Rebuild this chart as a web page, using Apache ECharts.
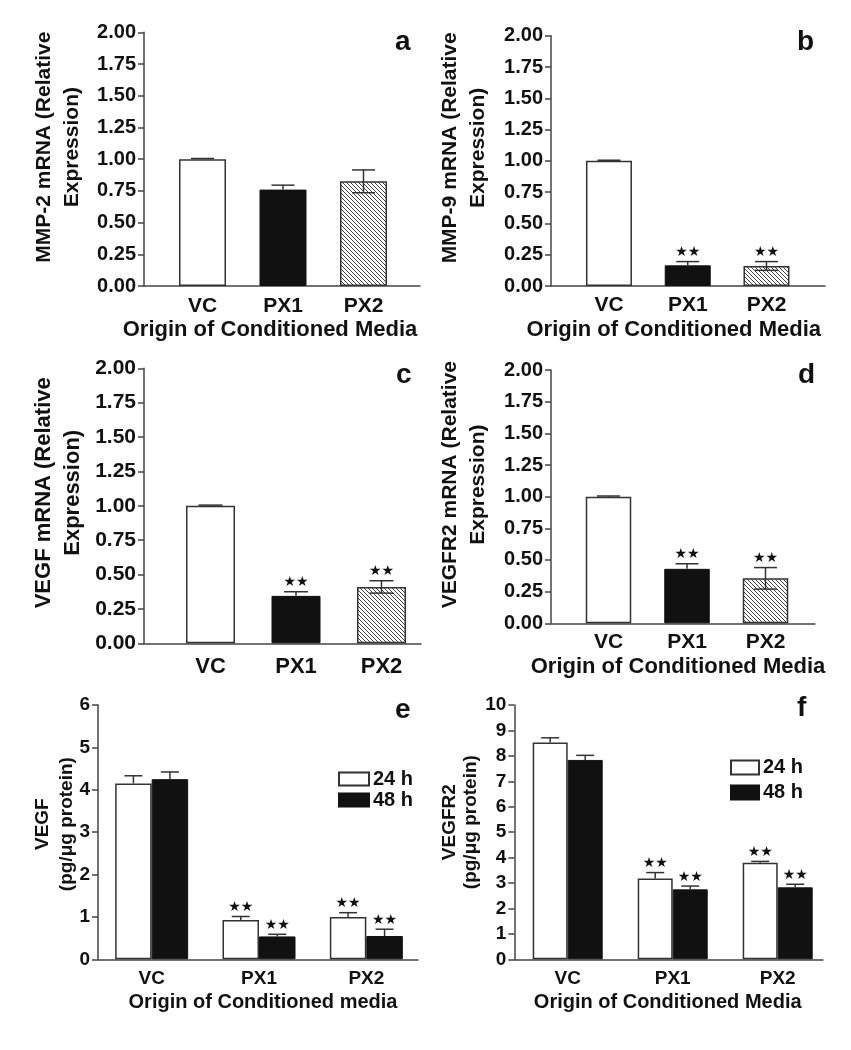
<!DOCTYPE html>
<html>
<head>
<meta charset="utf-8">
<script src="https://cdn.jsdelivr.net/npm/echarts@6/dist/echarts.min.js"></script>
<style>
  html, body { margin: 0; padding: 0; background: #fff; }
  #chart { width: 851px; height: 1050px; }
</style>
</head>
<body>
<div id="chart"></div>
<script>
// ---------- DATA ----------
const categories = ['VC', 'PX1', 'PX2'];
const mrnaTicks = ['0.00', '0.25', '0.50', '0.75', '1.00', '1.25', '1.50', '1.75', '2.00'];
const vegfTicks = ['0', '1', '2', '3', '4', '5', '6'];
const vegfr2Ticks = ['0', '1', '2', '3', '4', '5', '6', '7', '8', '9', '10'];

const mmp2Mean = [1.00, 0.76, 0.825];
const mmp2Err = [0.005, 0.035, 0.09];
const mmp2Sig = [0, 0, 0];

const mmp9Mean = [1.00, 0.165, 0.16];
const mmp9Err = [0.005, 0.03, 0.035];
const mmp9Sig = [0, 1, 1];

const vegfMrnaMean = [1.00, 0.345, 0.41];
const vegfMrnaErr = [0.005, 0.03, 0.045];
const vegfMrnaSig = [0, 1, 1];

const vegfr2MrnaMean = [1.00, 0.43, 0.355];
const vegfr2MrnaErr = [0.005, 0.04, 0.085];
const vegfr2MrnaSig = [0, 1, 1];

const seriesNames = ['24 h', '48 h'];
const vegf24Mean = [4.15, 0.93, 1.00];
const vegf24Err = [0.18, 0.08, 0.10];
const vegf48Mean = [4.25, 0.54, 0.55];
const vegf48Err = [0.17, 0.05, 0.16];
const vegfProtSig = [0, 1, 1];

const vegfr224Mean = [8.53, 3.18, 3.80];
const vegfr224Err = [0.18, 0.23, 0.05];
const vegfr248Mean = [7.84, 2.75, 2.83];
const vegfr248Err = [0.18, 0.13, 0.12];
const vegfr2ProtSig = [0, 1, 1];

// ---------- STYLE ----------
const FONT = '"Liberation Sans", Arial, Helvetica, sans-serif';
const INK = '#111';
const AXIS = '#444';

function makeHatch() {
  const s = 4;
  const c = document.createElement('canvas');
  c.width = s; c.height = s;
  const g = c.getContext('2d');
  g.fillStyle = '#fff';
  g.fillRect(0, 0, s, s);
  g.strokeStyle = '#444';
  g.lineWidth = 1;
  for (const k of [-s, 0, s]) {
    g.beginPath();
    g.moveTo(k, 0);
    g.lineTo(k + s, s);
    g.stroke();
  }
  return c;
}
const hatch = { image: makeHatch(), repeat: 'repeat' };
const whiteStyle = { color: '#fff', borderColor: '#333', borderWidth: 1.5 };
const blackStyle = { color: '#111', borderColor: '#111', borderWidth: 1 };
const hatchStyle = { color: hatch, borderColor: '#333', borderWidth: 1.5 };

// ---------- PANELS ----------
const panels = [
  { letter: 'a', frame: [144, 420, 32.3, 286], data: [162.25, 241.5], barW: 47,
    max: 2, interval: 0.25, ticks: mrnaTicks, tickFont: 20,
    name: 'MMP-2 mRNA (Relative\nExpression)', nameFont: 21, nameLH: 28, nameGap: 58, nameUp: 12,
    xFont: 21, xMargin: 10, title: 'Origin of Conditioned Media', titleGap: 33, titleShift: -13,
    mean: mmp2Mean, err: mmp2Err, sig: mmp2Sig, letterPos: [395, 28], capW: 23 },
  { letter: 'b', frame: [551, 825, 35.7, 286], data: [569.6, 236.25], barW: 46,
    max: 2, interval: 0.25, ticks: mrnaTicks, tickFont: 20,
    name: 'MMP-9 mRNA (Relative\nExpression)', nameFont: 21, nameLH: 28, nameGap: 59, nameUp: 13,
    xFont: 21, xMargin: 9, title: 'Origin of Conditioned Media', titleGap: 33, titleShift: -14,
    mean: mmp9Mean, err: mmp9Err, sig: mmp9Sig, letterPos: [797, 28], capW: 23 },
  { letter: 'c', frame: [144, 421, 368.3, 643.3], data: [167.75, 256.5], barW: 49,
    max: 2, interval: 0.25, ticks: mrnaTicks, tickFont: 21,
    name: 'VEGF mRNA (Relative\nExpression)', nameFont: 22, nameLH: 29, nameGap: 57, nameUp: 13,
    xFont: 22, xMargin: 13, title: null,
    mean: vegfMrnaMean, err: vegfMrnaErr, sig: vegfMrnaSig, letterPos: [396, 361], capW: 24 },
  { letter: 'd', frame: [551, 815, 370, 623.3], data: [569.25, 235.5], barW: 45.5,
    max: 2, interval: 0.25, ticks: mrnaTicks, tickFont: 20,
    name: 'VEGFR2 mRNA (Relative\nExpression)', nameFont: 21, nameLH: 28, nameGap: 59, nameUp: 12,
    xFont: 21, xMargin: 8, title: 'Origin of Conditioned Media', titleGap: 33, titleShift: -9,
    mean: vegfr2MrnaMean, err: vegfr2MrnaErr, sig: vegfr2MrnaSig, letterPos: [798, 361], capW: 23 }
];

const groupPanels = [
  { letter: 'e', frame: [98, 418, 705, 959.3], data: [98, 322], barW: 36.5,
    max: 6, interval: 1, ticks: vegfTicks, tickFont: 19,
    name: 'VEGF\n(pg/μg protein)', nameFont: 19, nameLH: 24, nameGap: 19, nameUp: 8,
    xFont: 19, xMargin: 10, title: 'Origin of Conditioned media', titleGap: 33, titleShift: 4,
    means: [vegf24Mean, vegf48Mean], errs: [vegf24Err, vegf48Err], sig: vegfProtSig,
    letterPos: [395, 696], capW: 18,
    legend: { left: 338, top: 769, w: 30, h: 13, gap: 1 } },
  { letter: 'f', frame: [514.3, 823, 705, 959.3], data: [515.2, 315], barW: 35,
    max: 10, interval: 1, ticks: vegfr2Ticks, tickFont: 19,
    name: 'VEGFR2\n(pg/μg protein)', nameFont: 19, nameLH: 21, nameGap: 33, nameUp: 10,
    xFont: 19, xMargin: 10, title: 'Origin of Conditioned Media', titleGap: 33, titleShift: -5,
    means: [vegfr224Mean, vegfr248Mean], errs: [vegfr224Err, vegfr248Err], sig: vegfr2ProtSig,
    letterPos: [797, 694], capW: 18,
    legend: { left: 730, top: 757.5, w: 28, h: 14, gap: 5 } }
];

const grids = [], xAxes = [], yAxes = [], series = [], titles = [], legends = [];

function errRender(offset, capW, both) {
  return function (params, api) {
    const x = api.value(0), m = api.value(1), e = api.value(2), sig = api.value(3);
    const base = api.coord([x, m]);
    const top = api.coord([x, m + e]);
    const bot = api.coord([x, m - e]);
    const cx = base[0] + offset;
    const ls = { stroke: '#333', lineWidth: 1.5 };
    const children = [
      { type: 'line', shape: { x1: cx, y1: both ? bot[1] : base[1], x2: cx, y2: top[1] }, style: ls },
      { type: 'line', shape: { x1: cx - capW / 2, y1: top[1], x2: cx + capW / 2, y2: top[1] }, style: ls }
    ];
    if (both) {
      children.push({ type: 'line', shape: { x1: cx - capW / 2, y1: bot[1], x2: cx + capW / 2, y2: bot[1] }, style: ls });
    }
    if (sig) {
      children.push({ type: 'text', x: cx, y: top[1] - 9,
        style: { text: '★★', fill: INK, font: '14px "DejaVu Sans", sans-serif', align: 'center', verticalAlign: 'middle' } });
    }
    return { type: 'group', children: children };
  };
}

function addAxes(p, idx) {
  const [l, r, t, b] = p.frame;
  const h = b - t;
  grids.push({ left: l, top: t, width: r - l, height: h, outerBoundsMode: 'none', containLabel: false });
  grids.push({ left: p.data[0], top: t, width: p.data[1], height: h, outerBoundsMode: 'none', containLabel: false });
  const fg = 2 * idx, dg = 2 * idx + 1;
  xAxes.push({ gridIndex: fg, type: 'category', data: categories, boundaryGap: true,
    axisLine: { show: true, lineStyle: { color: AXIS, width: 1.5 } },
    axisTick: { show: false }, axisLabel: { show: false }, splitLine: { show: false } });
  yAxes.push({ gridIndex: fg, type: 'value', min: 0, max: p.max, interval: p.interval,
    axisLine: { show: true, onZero: false, lineStyle: { color: AXIS, width: 1.5 } },
    axisTick: { show: true, inside: false, length: 6, lineStyle: { color: AXIS, width: 1.5 } },
    axisLabel: { show: true, margin: 8, color: INK, fontFamily: FONT, fontWeight: 'bold', fontSize: p.tickFont,
      formatter: (v, i) => p.ticks[i] },
    splitLine: { show: false },
    name: p.name, nameLocation: 'middle', nameRotate: 90, nameGap: p.nameGap, nameMoveOverlap: false,
    nameTextStyle: { color: INK, fontFamily: FONT, fontWeight: 'bold', fontSize: p.nameFont,
      lineHeight: p.nameLH, align: 'center', padding: [0, 0, 0, 2 * p.nameUp] } });
  xAxes.push({ gridIndex: dg, type: 'category', data: categories, boundaryGap: true,
    axisLine: { show: false }, axisTick: { show: false },
    axisLabel: { show: true, margin: p.xMargin, color: INK, fontFamily: FONT, fontWeight: 'bold', fontSize: p.xFont },
    splitLine: { show: false },
    name: p.title || '', nameLocation: 'middle', nameGap: p.titleGap || 0, nameMoveOverlap: false,
    nameTextStyle: { color: INK, fontFamily: FONT, fontWeight: 'bold', fontSize: p.xFont + 1,
      padding: p.titleShift < 0 ? [0, -2 * p.titleShift, 0, 0] : [0, 0, 0, 2 * (p.titleShift || 0)] } });
  yAxes.push({ gridIndex: dg, type: 'value', min: 0, max: p.max, interval: p.interval, show: false });
  titles.push({ text: p.letter, left: p.letterPos[0], top: p.letterPos[1], padding: 0,
    textStyle: { color: INK, fontFamily: FONT, fontWeight: 'bold', fontSize: 28 } });
  return dg;
}

panels.forEach((p, i) => {
  const dg = addAxes(p, i);
  const styles = [whiteStyle, blackStyle, hatchStyle];
  series.push({ type: 'bar', xAxisIndex: dg, yAxisIndex: dg, barWidth: p.barW, z: 2,
    data: p.mean.map((v, k) => ({ value: v, itemStyle: styles[k] })) });
  series.push({ type: 'custom', xAxisIndex: dg, yAxisIndex: dg, z: 5,
    renderItem: errRender(0, p.capW, false),
    data: [0, 1].map(k => [k, p.mean[k], p.err[k], p.sig[k]]) });
  series.push({ type: 'custom', xAxisIndex: dg, yAxisIndex: dg, z: 5,
    renderItem: errRender(0, p.capW, true),
    data: [2].map(k => [k, p.mean[k], p.err[k], p.sig[k]]) });
});

groupPanels.forEach((p, j) => {
  const dg = addAxes(p, panels.length + j);
  const st = [whiteStyle, blackStyle];
  p.means.forEach((m, s) => {
    series.push({ type: 'bar', name: seriesNames[s], xAxisIndex: dg, yAxisIndex: dg,
      barWidth: p.barW, barGap: '0%', z: 2, itemStyle: st[s], data: m });
    series.push({ type: 'custom', xAxisIndex: dg, yAxisIndex: dg, z: 5,
      renderItem: errRender((s === 0 ? -1 : 1) * p.barW / 2, p.capW, false),
      data: m.map((v, k) => [k, v, p.errs[s][k], p.sig[k]]) });
  });
  legends.push({ data: seriesNames, orient: 'vertical', left: p.legend.left, top: p.legend.top,
    padding: 0, itemWidth: p.legend.w, itemHeight: p.legend.h, itemGap: p.legend.gap,
    icon: 'rect', selectedMode: false,
    textStyle: { color: INK, fontFamily: FONT, fontWeight: 'bold', fontSize: 20, padding: [0, 0, 0, -1] } });
});

const chart = echarts.init(document.getElementById('chart'), null, { renderer: 'canvas' });
chart.setOption({
  animation: false,
  backgroundColor: '#fff',
  title: titles,
  legend: legends,
  grid: grids,
  xAxis: xAxes,
  yAxis: yAxes,
  series: series
});
</script>
</body>
</html>
